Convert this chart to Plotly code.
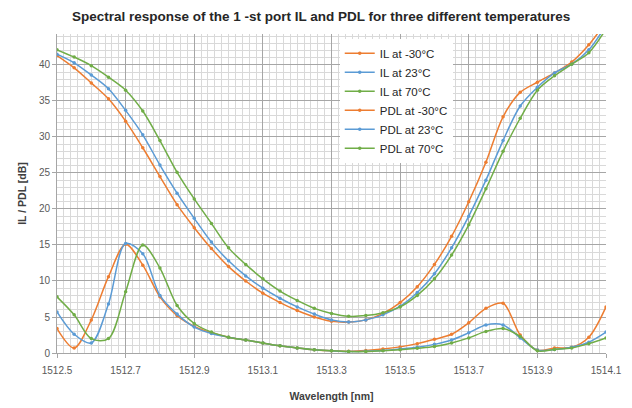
import plotly.graph_objects as go

# Wavelength grid (nm), one sample every 0.05 nm
wavelength = [round(1512.50 + 0.05 * i, 2) for i in range(33)]

# Insertion loss (dB)
il_m30 = [41.3, 39.6, 37.5, 35.3, 32.2, 28.5, 24.5, 20.6, 17.4, 14.5,
          12.0, 10.0, 8.3, 7.0, 5.9, 5.0, 4.4, 4.3, 4.6, 5.5,
          7.0, 9.2, 12.3, 16.2, 21.0, 26.5, 32.8, 36.2, 37.6, 38.9,
          40.4, 42.8, 46.0]
il_23 = [41.5, 40.3, 38.6, 36.7, 33.7, 30.3, 26.1, 22.2, 18.7, 15.4,
         12.8, 10.7, 9.0, 7.6, 6.4, 5.4, 4.6, 4.3, 4.6, 5.3,
         6.5, 8.4, 11.0, 14.6, 19.0, 24.0, 29.5, 34.3, 36.9, 38.9,
         40.1, 42.1, 45.5]
il_70 = [42.1, 41.1, 39.9, 38.3, 36.5, 33.6, 29.5, 25.1, 21.4, 18.0,
         14.6, 12.3, 10.3, 8.6, 7.3, 6.2, 5.5, 5.1, 5.2, 5.6,
         6.4, 8.0, 10.3, 13.6, 17.8, 22.8, 28.0, 32.6, 36.5, 38.5,
         40.1, 41.7, 45.0]

# Polarization dependent loss (dB)
pdl_m30 = [3.4, 0.7, 4.6, 10.6, 15.1, 12.2, 7.8, 5.2, 3.7, 2.8,
           2.2, 1.8, 1.4, 1.0, 0.7, 0.45, 0.3, 0.25, 0.35, 0.55,
           0.85, 1.3, 1.9, 2.6, 4.2, 6.2, 6.9, 2.5, 0.4, 0.7,
           0.8, 2.2, 6.4]
pdl_23 = [5.7, 2.6, 1.4, 6.8, 15.2, 13.8, 8.0, 5.4, 3.6, 2.7,
          2.2, 1.8, 1.4, 1.0, 0.7, 0.45, 0.3, 0.2, 0.25, 0.35,
          0.55, 0.8, 1.2, 1.8, 2.8, 3.9, 3.9, 2.1, 0.4, 0.5,
          0.8, 1.5, 2.9]
pdl_70 = [7.8, 5.3, 2.0, 2.0, 8.5, 15.0, 11.8, 6.6, 4.1, 2.9,
          2.2, 1.8, 1.4, 1.0, 0.7, 0.45, 0.3, 0.2, 0.2, 0.3,
          0.45, 0.65, 0.9, 1.4, 2.1, 3.0, 3.4, 2.3, 0.3, 0.5,
          0.7, 1.3, 2.1]

x_ticks = [1512.5, 1512.7, 1512.9, 1513.1, 1513.3, 1513.5, 1513.7, 1513.9, 1514.1]
y_ticks = [0, 5, 10, 15, 20, 25, 30, 35, 40]

ORANGE = "#ED7D31"
BLUE = "#5B9BD5"
GREEN = "#70AD47"

series = [
    ("IL at -30°C", il_m30, ORANGE),
    ("IL at 23°C", il_23, BLUE),
    ("IL at 70°C", il_70, GREEN),
    ("PDL at -30°C", pdl_m30, ORANGE),
    ("PDL at 23°C", pdl_23, BLUE),
    ("PDL at 70°C", pdl_70, GREEN),
]

fig = go.Figure()
for name, vals, col in series:
    fig.add_trace(go.Scatter(
        x=wavelength, y=vals, name=name,
        mode="lines+markers",
        line=dict(color=col, width=1.5, shape="spline", smoothing=0.9),
        marker=dict(color=col, size=3.5, symbol="circle"),
    ))

FONT = "Liberation Sans"

fig.update_layout(
    width=632, height=408,
    margin=dict(l=57, r=26, t=34, b=55),
    paper_bgcolor="white",
    plot_bgcolor="white",
    font=dict(family=FONT, color="#595959", size=10),
    title=dict(
        text="<b>Spectral response of the 1 -st port IL and PDL for three different temperatures</b>",
        x=0.508, xanchor="center", y=0.96, yanchor="middle",
        font=dict(family=FONT, size=13.5, color="#262626"),
    ),
    legend=dict(
        x=0.515, y=0.985, xanchor="left", yanchor="top",
        bgcolor="white",
        font=dict(family=FONT, size=11.5, color="#262626"),
        itemwidth=30,
        tracegroupgap=0,
    ),
    showlegend=True,
)

fig.update_xaxes(
    range=[1512.5, 1514.1],
    automargin=False,
    tickvals=x_ticks,
    ticktext=[f"{v:.1f}" for v in x_ticks],
    showgrid=True, gridcolor="#a6a6a6", gridwidth=1,
    minor=dict(dtick=0.02, tick0=1512.5, showgrid=True, gridcolor="#d9d9d9", gridwidth=1),
    showline=True, linecolor="#a6a6a6", linewidth=1,
    ticks="outside", ticklen=4, tickcolor="#a6a6a6",
    ticklabelstandoff=4,
    zeroline=False,
    tickfont=dict(size=10, color="#595959"),
    title=dict(text="<b>Wavelength [nm]</b>", standoff=17,
               font=dict(family=FONT, size=10.5, color="#404040")),
)

fig.update_yaxes(
    range=[0, 44.3],
    automargin=False,
    tickvals=y_ticks,
    showgrid=True, gridcolor="#a6a6a6", gridwidth=1,
    minor=dict(dtick=1, tick0=0, showgrid=True, gridcolor="#d9d9d9", gridwidth=1),
    showline=True, linecolor="#a6a6a6", linewidth=1,
    ticks="outside", ticklen=4, tickcolor="#a6a6a6",
    zeroline=False,
    tickfont=dict(size=10, color="#595959"),
    title=dict(text="<b>IL / PDL [dB]</b>", standoff=10,
               font=dict(family=FONT, size=10.5, color="#404040")),
)

fig.write_html("out.html")
